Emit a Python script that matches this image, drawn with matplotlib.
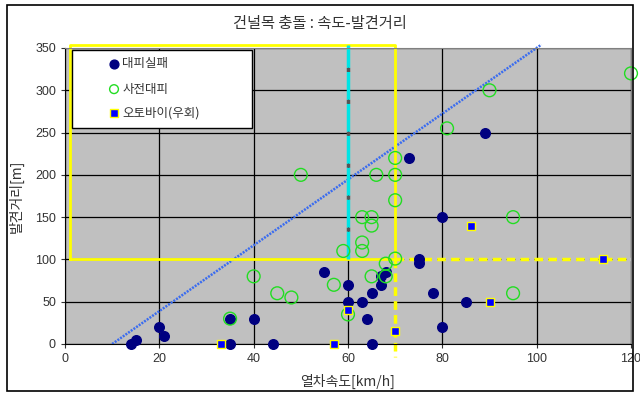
import matplotlib.pyplot as plt
from matplotlib.patches import Rectangle

plt.rcParams["font.family"] = ["Noto Sans CJK KR", "DejaVu Sans"]

# 대피실패 (evacuation failed)
fail_speed = [14, 15, 20, 21, 35, 40, 35, 44, 55, 60, 60, 63, 64, 65, 65,
              67, 68, 67, 73, 75, 75, 78, 80, 80, 85, 89]
fail_dist = [0, 5, 20, 10, 30, 30, 0, 0, 85, 70, 50, 50, 30, 60, 0,
             80, 85, 70, 220, 101, 96, 60, 150, 20, 50, 250]

# 사전대피 (evacuated in advance)
evac_speed = [35, 40, 45, 48, 50, 57, 59, 60, 63, 65, 65, 63, 63, 65, 66,
              68, 68, 70, 70, 70, 70, 81, 90, 95, 95, 120]
evac_dist = [30, 80, 60, 55, 200, 70, 110, 35, 150, 150, 140, 120, 110, 80, 200,
             80, 95, 220, 200, 170, 101, 255, 300, 150, 60, 320]

# 오토바이(우회) (motorcycle, detour)
moto_speed = [33, 57, 60, 70, 86, 90, 114]
moto_dist = [0, 0, 40, 15, 140, 50, 101]

# guide lines
trend_x = [10, 101]
trend_y = [0, 354]
box_x = [1, 1, 70, 70, 1]
box_y = [101, 354, 354, 101, 101]
limit_speed = 70
limit_dist = 101
cyan_x = 60

labels = ["대피실패", "사전대피", "오토바이(우회)"]

fig = plt.figure(figsize=(6.4, 3.97), dpi=100)
fig.patches.append(Rectangle((7 / 640, 6 / 397), 626 / 640, 386 / 397,
                             transform=fig.transFigure, fill=False,
                             edgecolor="black", linewidth=1.2))

ax = fig.add_axes([65 / 640, 53 / 397, 566 / 640, 296 / 397])
ax.set_facecolor("#c0c0c0")
ax.set_xlim(0, 120)
ax.set_ylim(0, 350)
ax.set_xticks(range(0, 121, 20))
ax.set_yticks(range(0, 351, 50))
ax.grid(True, color="black", linewidth=0.9)
ax.set_axisbelow(True)
for s in ax.spines.values():
    s.set_color("#808080")
ax.spines["left"].set_color("black")
ax.spines["bottom"].set_color("black")
ax.tick_params(colors="#333333", labelsize=9, length=3, direction="out")
for lab in ax.get_xticklabels() + ax.get_yticklabels():
    lab.set_fontfamily("Liberation Sans")

ax.plot(trend_x, trend_y, color="#3a6cf0", linestyle=(0, (0.8, 0.5)),
        linewidth=1.8, clip_on=False, zorder=2)
ax.plot(box_x, box_y, color="#ffff00", linewidth=2, clip_on=False, zorder=2)
ax.plot([limit_speed, limit_speed], [limit_dist, -15], color="#ffff00",
        linewidth=2.5, linestyle=(0, (2.5, 1.5)), clip_on=False, zorder=2)
ax.plot([limit_speed, 120], [limit_dist, limit_dist], color="#ffff00",
        linewidth=2.5, linestyle=(0, (2.5, 1.5)), gapcolor="#c0c0c0",
        clip_on=False, zorder=2)
ax.plot([cyan_x, cyan_x], [101, 354], color="#00e5e5", linewidth=2.5,
        linestyle=(0, (8, 1.2)), gapcolor="#555555", clip_on=False, zorder=2)

ax.scatter(fail_speed, fail_dist, s=48, color="#000080", zorder=4,
           clip_on=False)
ax.scatter(evac_speed, evac_dist, s=85, facecolors="none",
           edgecolors="#22dd22", linewidths=1, zorder=5, clip_on=False)
ax.scatter(moto_speed, moto_dist, s=40, marker="s", color="#0000ff",
           edgecolors="#ffff00", linewidths=1, zorder=6, clip_on=False)

# legend box
ax.add_patch(Rectangle((0.0124, 0.730), 0.318, 0.263, transform=ax.transAxes,
                       facecolor="white", edgecolor="black", linewidth=1,
                       zorder=7))
rows = [0.946, 0.861, 0.780]
ax.scatter([0.0866], [rows[0]], s=40, color="#000080",
           transform=ax.transAxes, zorder=8)
ax.scatter([0.0866], [rows[1]], s=40, facecolors="none", edgecolors="#22dd22",
           linewidths=1, transform=ax.transAxes, zorder=8)
ax.scatter([0.0866], [rows[2]], s=40, marker="s", color="#0000ff",
           edgecolors="#ffff00", linewidths=1, transform=ax.transAxes, zorder=8)
for y, t in zip(rows, labels):
    ax.text(0.101, y, t, transform=ax.transAxes, fontsize=9, color="#333333",
            va="center", ha="left", zorder=8)

fig.text(0.5, 0.942, "건널목 충돌 : 속도-발견거리", ha="center", va="center",
         fontsize=11, color="#333333")
ax.set_xlabel("열차속도[km/h]", fontsize=10, color="#333333", labelpad=6)
ax.set_ylabel("발견거리[m]", fontsize=10, color="#333333", labelpad=8)

fig.savefig("out.png", dpi=100)
